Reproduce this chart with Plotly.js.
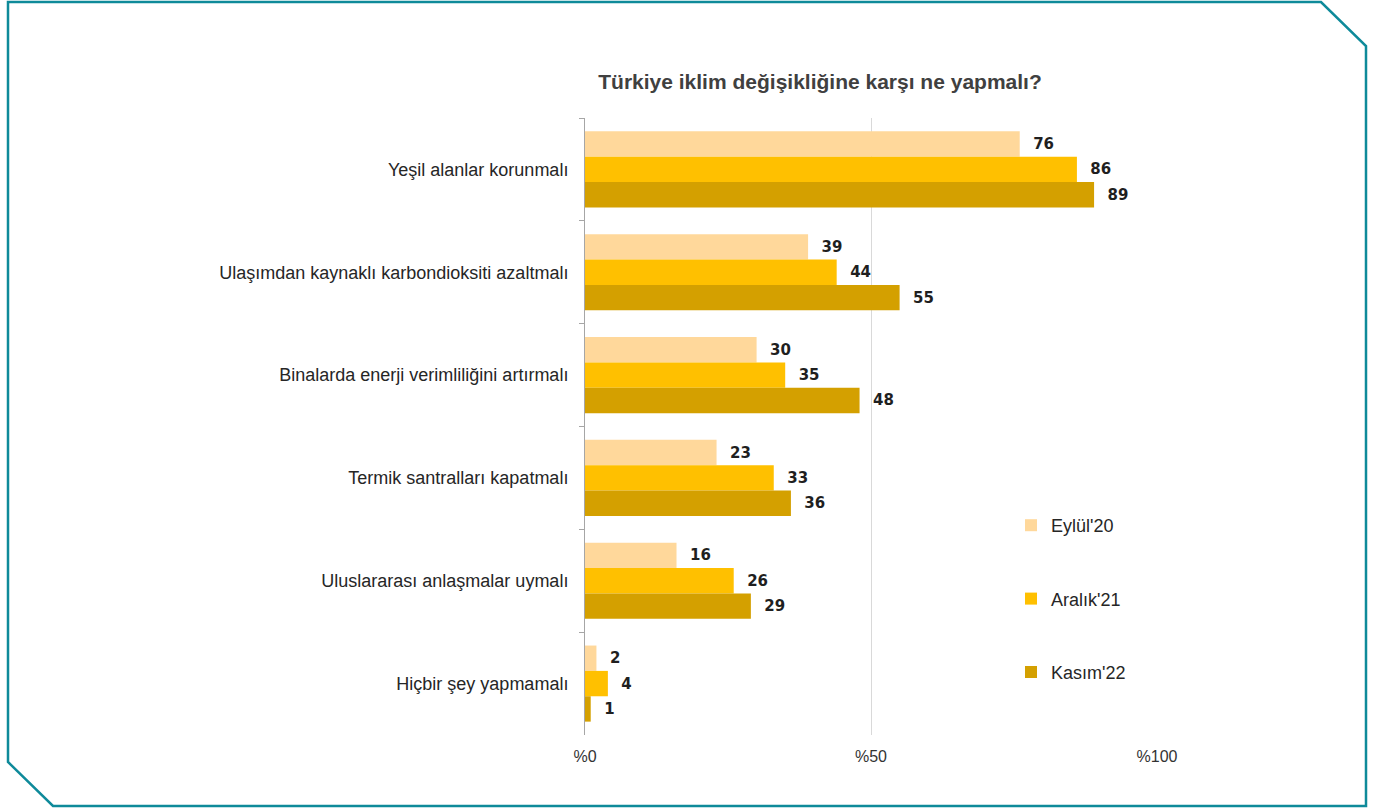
<!DOCTYPE html>
<html>
<head>
<meta charset="utf-8">
<script src="https://cdn.plot.ly/plotly-3.0.1.min.js"></script>
<style>
html,body{margin:0;padding:0;background:#fff;}
#chart{width:1389px;height:809px;}
</style>
</head>
<body>
<div id="chart"></div>
<script>
const categories = [
  "Yeşil alanlar korunmalı",
  "Ulaşımdan kaynaklı karbondioksiti azaltmalı",
  "Binalarda enerji verimliliğini artırmalı",
  "Termik santralları kapatmalı",
  "Uluslararası anlaşmalar uymalı",
  "Hiçbir şey yapmamalı"
];
const seriesNames = ["Eylül'20", "Aralık'21", "Kasım'22"];
const eylul20 = [76, 39, 30, 23, 16, 2];
const aralik21 = [86, 44, 35, 33, 26, 4];
const kasim22 = [89, 55, 48, 36, 29, 1];
const colors = ["#FFD89B", "#FFC000", "#D4A000"];
const xTickVals = [0, 50, 100];

const W = 1389, H = 809;
const margin = {l: 585, r: 232, t: 118, b: 74};
const pw = W - margin.l - margin.r, ph = H - margin.t - margin.b;
function px(x){ return (x - margin.l) / pw; }
function py(y){ return (H - margin.b - y) / ph; }

const seriesVals = [eylul20, aralik21, kasim22];
const traces = seriesVals.map((vals, i) => ({
  type: 'bar',
  orientation: 'h',
  name: seriesNames[i],
  legendgroup: 'g' + i,
  x: vals,
  y: categories,
  marker: {color: colors[i]},
  text: vals.map(v => String(v)),
  texttemplate: '\u00a0\u00a0%{text}',
  textposition: 'outside',
  cliponaxis: false,
  textfont: {family: 'DejaVu Sans, sans-serif', size: 15, color: '#1f1f1f', weight: 'bold'},
  hoverinfo: 'x+y+name'
}));

// decorative frame (octagon-ish border)
const pts = [[8,2],[1321,2],[1366,46],[1366,806],[53,806],[8,762]];
const path = 'M' + pts.map(p => px(p[0]) + ',' + py(p[1])).join('L') + 'Z';

const layout = {
  width: W, height: H,
  margin: margin,
  paper_bgcolor: '#fff',
  plot_bgcolor: '#fff',
  barmode: 'group',
  bargap: 0.26,
  bargroupgap: 0,
  font: {family: 'Liberation Sans, Arial, sans-serif', size: 15, color: '#262626'},
  title: {
    text: 'Türkiye iklim değişikliğine karşı ne yapmalı?',
    x: 820 / W, xanchor: 'center', xref: 'container',
    y: 1 - 82 / H, yanchor: 'middle', yref: 'container',
    font: {family: 'Liberation Sans, Arial, sans-serif', size: 21, color: '#404040', weight: 'bold'}
  },
  xaxis: {
    range: [0, 100],
    tickvals: xTickVals,
    ticktext: xTickVals.map(v => '%' + v),
    showgrid: true,
    gridcolor: '#D9D9D9',
    gridwidth: 1,
    zeroline: false,
    showline: false,
    ticks: '',
    ticklabelstandoff: 10,
    tickfont: {size: 16, color: '#333333'},
    fixedrange: true
  },
  yaxis: {
    type: 'category',
    autorange: 'reversed',
    showline: true,
    linecolor: '#A6A6A6',
    linewidth: 1,
    ticks: 'outside',
    tickson: 'boundaries',
    ticklen: 5,
    tickcolor: '#A6A6A6',
    ticklabelstandoff: 12,
    showgrid: false,
    zeroline: false,
    tickfont: {size: 18, color: '#262626'},
    fixedrange: true
  },
  legend: {
    x: px(1011), y: py(507),
    xanchor: 'left', yanchor: 'top',
    traceorder: 'grouped',
    tracegroupgap: 47,
    bgcolor: 'rgba(0,0,0,0)',
    font: {size: 18, color: '#262626'}
  },
  shapes: [{
    type: 'path', xref: 'paper', yref: 'paper',
    path: path,
    line: {color: '#0E8A9A', width: 2.5},
    layer: 'below'
  }]
};

Plotly.newPlot('chart', traces, layout, {displayModeBar: false});
</script>
</body>
</html>
